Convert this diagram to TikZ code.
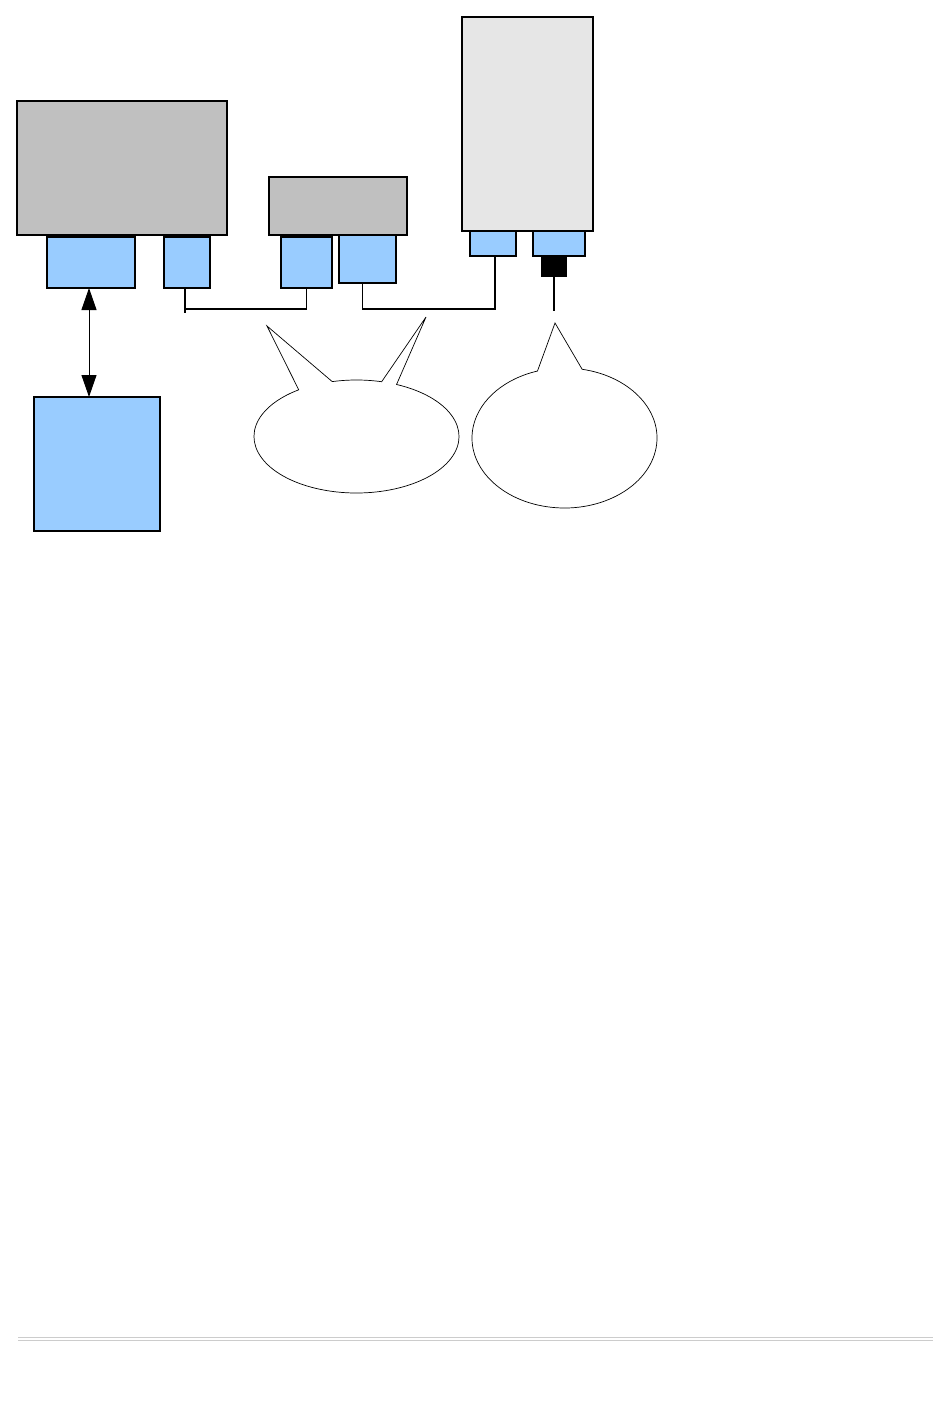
\documentclass[tikz,border=0pt]{standalone}
\usetikzlibrary{arrows.meta,calc}
\definecolor{devgray}{HTML}{C0C0C0}
\definecolor{devlight}{HTML}{E6E6E6}
\definecolor{portblue}{HTML}{99CCFF}
\definecolor{rulegray}{HTML}{CCCCCC}
\tikzset{
  box/.style={draw=black, line width=1.4pt, inner sep=0pt, outer sep=0pt, anchor=north west},
  wire/.style={draw=black, line width=1.1pt},
  bubble/.style={draw=black, line width=0.7pt, fill=white},
}
\begin{document}
\begin{tikzpicture}[x=1pt,y=1pt]
\useasboundingbox (0,0) rectangle (950,-1420);
% devices
\node[box, fill=devgray, minimum width=210pt, minimum height=134pt] (d1) at (17,-101) {};
\node[box, fill=devgray, minimum width=138pt, minimum height=58pt] (d2) at (269,-177) {};
\node[box, fill=devlight, minimum width=131pt, minimum height=214pt] (d3) at (462,-17) {};
% ports
\node[box, fill=portblue, minimum width=88pt, minimum height=51pt] (p1) at (47,-237) {};
\node[box, fill=portblue, minimum width=46pt, minimum height=51pt] (p2) at (164,-237) {};
\node[box, fill=portblue, minimum width=51pt, minimum height=51pt] (p3) at (281,-237) {};
\node[box, fill=portblue, minimum width=57pt, minimum height=48pt] (p4) at (339,-235) {};
\node[box, fill=portblue, minimum width=46pt, minimum height=25pt] (p5) at (470,-231) {};
\node[box, fill=portblue, minimum width=52pt, minimum height=25pt] (p6) at (533,-231) {};
\node[box, fill=black, minimum width=24pt, minimum height=20pt] (k) at (542,-256) {};
% lower device
\node[box, fill=portblue, minimum width=126pt, minimum height=134pt] (b) at (34,-397) {};
% arrow
\draw[line width=1pt, {Triangle[width=15pt,length=22pt]}-{Triangle[width=15pt,length=22pt]}] ([xshift=-2pt]p1.south) -- ([xshift=-2pt]p1.south |- b.north);
% wires
\draw[wire] ([xshift=-2pt]p2.south) -- ++(0,-25);
\draw[wire] ([xshift=-2pt]p2.south) ++(0,-21) -| (p3.south);
\draw[wire] ([xshift=-5pt]p4.south) -- ++(0,-26) -| ([xshift=2pt]p5.south);
\coordinate (wirejoin) at (450,-309);
\draw[line width=1.8pt] (wirejoin) -| ([xshift=2pt]p5.south);
\coordinate (kend) at (554,-311);
\draw[wire] (k.south) -- (kend);
% callout 1
\coordinate (c1) at (356.5,-436.5);
\draw[bubble] ($(c1)+(124.3:102.5pt and 56.5pt)$) -- (267,-326)
  -- ($(c1)+(103.7:102.5pt and 56.5pt)$)
  arc[start angle=103.7, end angle=75.8, x radius=102.5pt, y radius=56.5pt]
  -- (426,-317)
  -- ($(c1)+(67:102.5pt and 56.5pt)$)
  arc[start angle=67, end angle=-235.7, x radius=102.5pt, y radius=56.5pt] -- cycle;
% callout 2
\coordinate (c2) at (564.5,-438);
\draw[bubble] ($(c2)+(107:92.5pt and 70pt)$) -- (555,-323)
  -- ($(c2)+(79:92.5pt and 70pt)$)
  arc[start angle=79, end angle=-253, x radius=92.5pt, y radius=70pt] -- cycle;
% footer rule
\draw[rulegray, line width=0.8pt] (18,-1337.5) -- (933,-1337.5);
\draw[rulegray, line width=0.8pt] (18,-1340.5) -- (933,-1340.5);
\end{tikzpicture}
\end{document}
